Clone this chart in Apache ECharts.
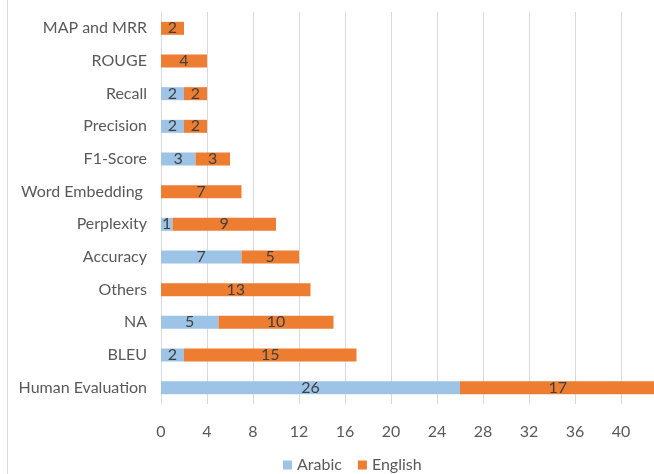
<!DOCTYPE html>
<html>
<head>
<meta charset="utf-8">
<script src="https://cdn.jsdelivr.net/npm/echarts@6/dist/echarts.min.js"></script>
<style>
  html, body { margin: 0; padding: 0; background: #ffffff; }
  #chart { width: 654px; height: 474px; }
</style>
</head>
<body>
<div id="chart"></div>
<script>
// Evaluation metrics, listed bottom to top
const categories = ['Human Evaluation', 'BLEU', 'NA', 'Others', 'Accuracy', 'Perplexity',
  'Word Embedding ', 'F1-Score', 'Precision', 'Recall', 'ROUGE', 'MAP and MRR'];
const arabic  = [26, 2, 5, null, 7, 1, null, 3, 2, 2, null, null];
const english = [17, 15, 10, 13, 5, 9, 7, 3, 2, 2, 4, 2];
const seriesNames = ['Arabic', 'English'];

const FONT = 'Lato, "Open Sans", sans-serif';
const chart = echarts.init(document.getElementById('chart'), null, { renderer: 'canvas' });

const labelStyle = {
  show: true,
  position: 'inside',
  color: '#404040',
  fontFamily: FONT,
  fontSize: 16,
  formatter: p => (p.value == null ? '' : p.value)
};

chart.setOption({
  animation: false,
  backgroundColor: '#ffffff',
  // plot runs past the right edge of the canvas, so the longest bar is cut off
  grid: {
    left: 161, width: 506, top: 12, height: 392,
    containLabel: false, outerBoundsMode: 'none'
  },
  xAxis: {
    type: 'value',
    min: 0,
    max: 44,
    interval: 4,
    axisLine: { show: false },
    axisTick: { show: false },
    axisLabel: {
      color: '#595959', fontFamily: FONT, fontSize: 16, margin: 20,
      formatter: v => (v > 40 ? '' : v)
    },
    splitLine: { show: true, lineStyle: { color: '#D9D9D9', width: 1 } }
  },
  yAxis: {
    type: 'category',
    data: categories,
    axisLine: { show: false },
    axisTick: { show: false },
    axisLabel: { color: '#595959', fontFamily: FONT, fontSize: 16, margin: 14 }
  },
  legend: {
    top: 452,
    left: 278,
    itemWidth: 9,
    itemHeight: 9,
    itemGap: 16,
    icon: 'rect',
    textStyle: { color: '#595959', fontFamily: FONT, fontSize: 16 },
    data: seriesNames
  },
  series: [
    {
      name: seriesNames[0], type: 'bar', stack: 'total', barWidth: 13,
      itemStyle: { color: '#9DC3E6' },
      label: labelStyle,
      data: arabic
    },
    {
      name: seriesNames[1], type: 'bar', stack: 'total', barWidth: 13,
      itemStyle: { color: '#ED7D31' },
      label: labelStyle,
      data: english
    }
  ],
  graphic: [
    {
      type: 'line',
      shape: { x1: 7.5, y1: 0, x2: 7.5, y2: 474 },
      style: { stroke: '#D9D9D9', lineWidth: 1 }
    }
  ]
});
</script>
</body>
</html>
